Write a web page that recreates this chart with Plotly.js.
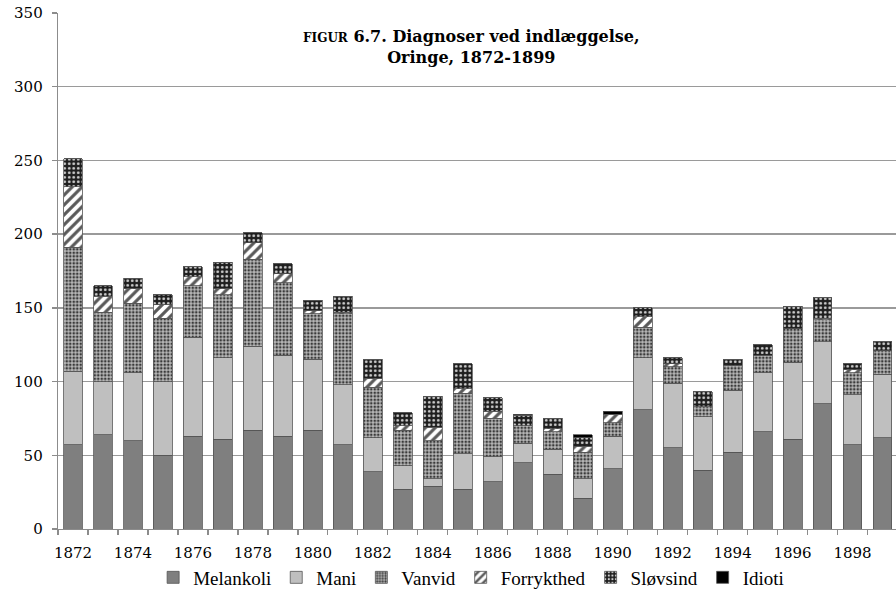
<!DOCTYPE html>
<html>
<head>
<meta charset="utf-8">
<script src="https://cdn.plot.ly/plotly-3.0.1.min.js"></script>
<style>html,body{margin:0;padding:0;background:#fff;overflow:hidden;}#chart{width:896px;height:608px;}</style>
</head>
<body>
<div id="chart"></div>
<script>
const years = [1872,1873,1874,1875,1876,1877,1878,1879,1880,1881,1882,1883,1884,1885,1886,1887,1888,1889,1890,1891,1892,1893,1894,1895,1896,1897,1898,1899];
const melankoli  = [57,64,60,50,63,61,67,63,67,57,39,27,29,27,32,45,37,21,41,81,55,40,52,66,61,85,57,62];
const mani       = [50,36,46,50,67,55,57,55,48,41,23,16,5,24,17,13,17,13,22,35,44,36,42,40,52,42,34,43];
const vanvid     = [84,47,47,43,35,43,59,49,31,48,34,24,26,41,26,12,12,18,9,21,11,7,17,12,23,15,15,16];
const forrykthed = [41,11,10,9,6,4,11,6,2,1,6,3,9,3,5,0,2,4,6,7,2,0,0,0,0,1,2,0];
const slovsind   = [19,7,7,7,7,18,7,7,7,11,13,9,21,17,9,7,7,6,0,6,4,10,4,7,15,14,4,6];
const idioti     = [0,0,0,0,0,0,0,0,0,0,0,0,0,0,0,1,0,2,2,0,0,0,0,0,0,0,0,0];
const yTicks = [0,50,100,150,200,250,300,350];
const xTicks = [1872,1874,1876,1878,1880,1882,1884,1886,1888,1890,1892,1894,1896,1898];

const line = {color:'#555555', width:0.8};
function bar(name, y, marker){
  return {type:'bar', name:name, x:years, y:y, width:0.63, marker:Object.assign({line:line}, marker), hoverinfo:'name+y'};
}
const traces = [
  bar('Melankoli', melankoli, {color:'#7f7f7f'}),
  bar('Mani', mani, {color:'#bfbfbf'}),
  bar('Vanvid', vanvid, {color:'#a8a8a8', pattern:{shape:'.', bgcolor:'#b8b8b8', fgcolor:'#3a3a3a', size:3.5, solidity:0.45, fillmode:'replace'}}),
  bar('Forrykthed', forrykthed, {color:'#ffffff', pattern:{shape:'/', bgcolor:'#ffffff', fgcolor:'#5a5a5a', size:7, solidity:0.45, fillmode:'replace'}}),
  bar('Sløvsind', slovsind, {color:'#222222', pattern:{shape:'.', bgcolor:'#1e1e1e', fgcolor:'#d0d0d0', size:4.5, solidity:0.3, fillmode:'replace'}}),
  bar('Idioti', idioti, {color:'#000000'})
];

const tickFont = {family:'DejaVu Serif, serif', size:15, color:'#000'};
const layout = {
  width:896, height:608,
  margin:{l:58, r:0, t:13, b:79},
  barmode:'stack',
  paper_bgcolor:'#fff', plot_bgcolor:'#fff',
  showlegend:true,
  legend:{orientation:'h', x:0.493, xanchor:'center', y:-0.094, yanchor:'middle', bgcolor:'rgba(0,0,0,0)',
          font:{family:'Liberation Serif, serif', size:19, color:'#000'}, traceorder:'normal', itemwidth:30},
  xaxis:{type:'linear', range:[1871.5,1899.45], tickmode:'array', tickvals:xTicks, ticktext:xTicks.map(String),
         ticks:'', showgrid:false, zeroline:false, showline:true, linecolor:'#8c8c8c', linewidth:1.3,
         tickfont:tickFont, ticklabelstandoff:10,
         minor:{tickmode:'linear', tick0:1871.5, dtick:1, ticks:'outside', ticklen:5, tickcolor:'#8c8c8c', tickwidth:1.3, showgrid:false}},
  yaxis:{range:[0,350], tickmode:'array', tickvals:yTicks, ticktext:yTicks.map(String),
         ticks:'outside', ticklen:5, tickcolor:'#8c8c8c', tickwidth:1.3,
         showgrid:true, gridcolor:'#9a9a9a', gridwidth:1.3, zeroline:false,
         showline:true, linecolor:'#8c8c8c', linewidth:1.3, tickfont:tickFont, ticklabelstandoff:6},
  annotations:[{xref:'paper', yref:'paper', x:0.494, y:0.934, xanchor:'center', yanchor:'middle', showarrow:false,
    align:'center',
    text:'<b><span style="font-size:12px">FIGUR</span> 6.7. Diagnoser ved indlæggelse,<br>Oringe, 1872-1899</b>',
    font:{family:'DejaVu Serif, serif', size:16, color:'#000'}}]
};
Plotly.newPlot('chart', traces, layout, {displayModeBar:false, staticPlot:true});
</script>
</body>
</html>
